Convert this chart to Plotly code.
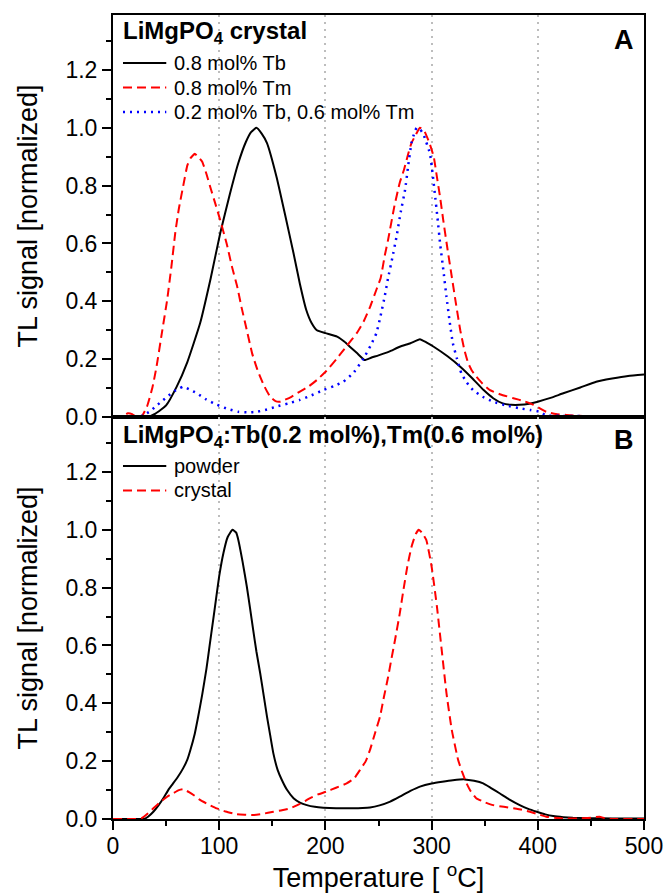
import plotly.graph_objects as go
from plotly.subplots import make_subplots

# ---------------- Panel A : LiMgPO4 crystal ----------------
tb08_T = [0, 20, 32, 40, 50, 60, 70, 82, 92, 101, 110, 118, 125, 130, 135, 140, 145, 154, 162, 170,
          176, 182, 187, 192, 200, 211, 218, 223, 230, 237, 243, 250, 260, 270, 280, 289, 295, 302,
          315, 327, 338, 349, 358, 367, 375, 383, 392, 400, 412, 424, 440, 455, 470, 485, 500]
tb08_v = [0, 0, 0, 0.012, 0.04, 0.105, 0.19, 0.324, 0.48, 0.636, 0.77, 0.878, 0.95, 0.985, 1.0, 0.98,
          0.947, 0.83, 0.70, 0.566, 0.46, 0.37, 0.325, 0.30, 0.29, 0.278, 0.26, 0.243, 0.22, 0.197,
          0.205, 0.213, 0.226, 0.243, 0.255, 0.269, 0.258, 0.243, 0.21, 0.174, 0.135, 0.093, 0.065,
          0.047, 0.042, 0.042, 0.046, 0.053, 0.066, 0.082, 0.102, 0.122, 0.133, 0.142, 0.147]

tm08_T = [0, 8, 14, 18, 22, 27, 32, 37, 41, 46, 51, 55, 58.6, 62, 66, 70, 73, 77, 80, 84, 88, 92, 97,
          101, 107, 112, 117, 121, 126, 131, 136, 142, 148, 153, 157, 162, 168, 176, 184, 192, 201,
          211, 220, 229.5, 236, 242, 248, 252, 256, 259, 265, 270, 274, 278, 281, 285, 289, 293, 298,
          302, 305, 308, 311, 315, 319, 323, 327, 331, 334.5, 338, 342, 348, 355, 365, 377, 387, 396,
          402, 408, 417, 427, 446, 470, 500]
tm08_v = [0, 0, 0.013, 0.01, 0, 0.002, 0.036, 0.1, 0.174, 0.29, 0.405, 0.52, 0.636, 0.72, 0.797, 0.87,
          0.895, 0.91, 0.9, 0.883, 0.84, 0.79, 0.73, 0.68, 0.60, 0.52, 0.45, 0.38, 0.30, 0.22, 0.163,
          0.11, 0.07, 0.055, 0.053, 0.06, 0.07, 0.088, 0.105, 0.128, 0.16, 0.203, 0.245, 0.29, 0.33,
          0.38, 0.44, 0.48, 0.56, 0.612, 0.73, 0.81, 0.855, 0.91, 0.947, 0.975, 1.0, 0.99, 0.947, 0.9,
          0.83, 0.76, 0.68, 0.58, 0.485, 0.39, 0.30, 0.23, 0.186, 0.16, 0.14, 0.115, 0.093, 0.078,
          0.065, 0.055, 0.042, 0.03, 0.018, 0.01, 0.007, 0.003, 0.002, 0.001]

mix_T = [0, 25, 29, 35, 40, 46, 51, 58, 63, 66, 72, 79, 88, 98, 108, 118, 127, 135.5, 145, 154, 165,
         176, 187, 198, 208, 217, 227, 236, 243, 248, 252, 256, 259, 263, 267, 271, 275, 278, 281, 284,
         286, 289, 292, 295, 298.5, 301, 303, 305.5, 308, 311, 314, 317, 320, 324, 328, 333, 339, 348,
         358, 370, 383, 393, 402, 408, 420, 440, 460]
mix_v = [0, 0, 0.007, 0.02, 0.036, 0.055, 0.07, 0.09, 0.1, 0.105, 0.095, 0.082, 0.06, 0.042, 0.028,
         0.018, 0.016, 0.018, 0.026, 0.036, 0.047, 0.059, 0.075, 0.093, 0.107, 0.122, 0.155, 0.203,
         0.25, 0.29, 0.35, 0.42, 0.48, 0.55, 0.624, 0.71, 0.785, 0.87, 0.947, 0.985, 1.0, 0.995, 0.98,
         0.95, 0.91, 0.84, 0.774, 0.69, 0.60, 0.51, 0.416, 0.33, 0.255, 0.2, 0.151, 0.12, 0.093, 0.07,
         0.053, 0.04, 0.03, 0.024, 0.018, 0.005, 0.004, 0.003, 0.003]

# ---------------- Panel B : LiMgPO4:Tb(0.2),Tm(0.6) ----------------
powder_T = [0, 20, 29, 33, 38, 43, 48, 52, 56, 61, 66, 70, 73, 77, 80, 84, 88, 91, 94, 97, 100, 104,
            108, 112.5, 116, 118, 122, 126, 129, 132, 135, 138.6, 142, 145, 148, 151, 155, 159, 164,
            170, 176, 182.5, 190, 198, 210, 225, 235, 242, 251, 261, 270, 280, 289, 300, 310, 320, 331,
            340, 348.6, 356, 364, 373, 383, 391, 399, 407, 414.5, 424, 433, 450, 470, 500]
powder_v = [0, 0, 0, 0.008, 0.025, 0.048, 0.075, 0.1, 0.12, 0.145, 0.175, 0.205, 0.24, 0.295, 0.35,
            0.43, 0.52, 0.6, 0.68, 0.76, 0.84, 0.92, 0.975, 1.0, 0.99, 0.965, 0.89, 0.804, 0.73, 0.654,
            0.58, 0.504, 0.425, 0.354, 0.29, 0.227, 0.17, 0.135, 0.1, 0.072, 0.057, 0.048, 0.042, 0.039,
            0.037, 0.037, 0.038, 0.04, 0.047, 0.06, 0.077, 0.097, 0.112, 0.123, 0.129, 0.134, 0.137,
            0.132, 0.123, 0.107, 0.089, 0.068, 0.048, 0.035, 0.025, 0.016, 0.01, 0.006, 0.004, 0.003,
            0.002, 0.002]

crystal_T = [0, 20, 27, 33, 38, 45, 51, 57, 62, 66, 72, 77, 82, 90, 97.6, 106, 116, 124, 132, 141, 151,
             159, 167, 176, 185.6, 193, 201, 210, 220, 227, 232.6, 238, 242, 247, 251.5, 255, 259, 262,
             265.6, 270, 273.4, 277, 281, 285, 288, 291, 295, 300, 305, 309.5, 314, 319, 325, 329, 333,
             337, 342, 350, 358, 368, 377, 385, 392.6, 400, 408, 416, 424, 440, 450, 458, 463, 470, 500]
crystal_v = [0, 0, 0.003, 0.02, 0.037, 0.06, 0.077, 0.09, 0.1, 0.103, 0.092, 0.08, 0.066, 0.05, 0.037,
             0.026, 0.017, 0.015, 0.014, 0.018, 0.025, 0.03, 0.037, 0.052, 0.072, 0.085, 0.095, 0.108,
             0.123, 0.14, 0.17, 0.2, 0.239, 0.3, 0.355, 0.42, 0.49, 0.55, 0.62, 0.71, 0.79, 0.87, 0.94,
             0.985, 1.0, 0.99, 0.965, 0.873, 0.735, 0.585, 0.435, 0.308, 0.204, 0.16, 0.123, 0.095, 0.072,
             0.058, 0.048, 0.042, 0.037, 0.032, 0.025, 0.017, 0.008, 0.004, 0.002, 0.002, 0.004, 0.008,
             0.003, 0, 0]

x_ticks = [0, 100, 200, 300, 400, 500]
y_ticks = [0.0, 0.2, 0.4, 0.6, 0.8, 1.0, 1.2]

title_A = "<b>LiMgPO<sub>4</sub> crystal</b>"
title_B = "<b>LiMgPO<sub>4</sub>:Tb(0.2 mol%),Tm(0.6 mol%)</b>"

FONT = "Liberation Sans, Arial, sans-serif"
BLACK, RED, BLUE = "#000000", "#ff0000", "#0000ff"
SOLID, DASH, DOT = "solid", "9px,5px", "2px,5px"

series_A = [
    (tb08_T, tb08_v, "0.8 mol% Tb", BLACK, SOLID, 2),
    (tm08_T, tm08_v, "0.8 mol% Tm", RED, DASH, 2),
    (mix_T, mix_v, "0.2 mol% Tb, 0.6 mol% Tm", BLUE, DOT, 2.5),
]
series_B = [
    (powder_T, powder_v, "powder", BLACK, SOLID, 2),
    (crystal_T, crystal_v, "crystal", RED, DASH, 2),
]

fig = make_subplots(rows=2, cols=1, shared_xaxes=False, vertical_spacing=0)

for row, series in ((1, series_A), (2, series_B)):
    for T, v, name, color, dash, width in series:
        fig.add_trace(go.Scatter(x=T, y=v, mode="lines", name=name, showlegend=False,
                                 line=dict(color=color, dash=dash, width=width, shape="spline",
                                           smoothing=0.4)), row=row, col=1)

common_x = dict(range=[0, 500], tickvals=x_ticks, showline=True, linecolor="black", linewidth=2,
                mirror=True, showgrid=True, gridcolor="#bdbdbd", griddash="2px,5px", gridwidth=2,
                zeroline=False)
fig.update_xaxes(**common_x, showticklabels=False, ticks="", row=1, col=1)
fig.update_xaxes(**common_x, ticks="outside", ticklen=9, tickwidth=2, tickcolor="black",
                 ticklabelstandoff=-4,
                 minor=dict(dtick=50, tick0=0, ticks="outside", ticklen=5, tickwidth=2, tickcolor="black",
                            showgrid=False),
                 tickfont=dict(family=FONT, size=23, color="black"),
                 title=dict(text="Temperature [ <sup>o</sup>C]", font=dict(family=FONT, size=27, color="black"),
                            standoff=4),
                 row=2, col=1)

common_y = dict(range=[0, 1.39], tickvals=y_ticks, ticktext=["%.1f" % t for t in y_ticks],
                showline=True, linecolor="black", linewidth=2, mirror=True, showgrid=False, zeroline=False,
                ticks="outside", ticklen=9, tickwidth=2, tickcolor="black",
                minor=dict(dtick=0.1, tick0=0, ticks="outside", ticklen=5, tickwidth=2, tickcolor="black",
                           showgrid=False),
                tickfont=dict(family=FONT, size=23, color="black"),
                title=dict(text="TL signal [normalized]", font=dict(family=FONT, size=27, color="black"),
                           standoff=20))
fig.update_yaxes(**common_y, row=1, col=1)
fig.update_yaxes(**common_y, row=2, col=1)

PLOT_L, PLOT_R, PLOT_T, PLOT_B = 112.7, 644, 15, 819
W, H = 665, 896
pw, ph = PLOT_R - PLOT_L, PLOT_B - PLOT_T


def px_x(p):
    return (p - PLOT_L) / pw


def px_y(p):
    return 1 - (p - PLOT_T) / ph


fig.update_layout(
    width=W, height=H,
    margin=dict(l=PLOT_L, r=W - PLOT_R, t=PLOT_T, b=H - PLOT_B, autoexpand=False),
    paper_bgcolor="white", plot_bgcolor="white",
    font=dict(family=FONT, color="black"),
    showlegend=False,
)

ann = [
    dict(text=title_A, x=px_x(121), y=px_y(33), xanchor="left", yanchor="middle",
         font=dict(family=FONT, size=24, color="black")),
    dict(text="<b>A</b>", x=px_x(624), y=px_y(40), xanchor="center", yanchor="middle",
         font=dict(family=FONT, size=27, color="black")),
    dict(text=title_B, x=px_x(121), y=px_y(436), xanchor="left", yanchor="middle",
         font=dict(family=FONT, size=24, color="black")),
    dict(text="<b>B</b>", x=px_x(624), y=px_y(440), xanchor="center", yanchor="middle",
         font=dict(family=FONT, size=27, color="black")),
]
shapes = []
# legend keys (drawn in panel pixel space) with their labels
for series, y0 in ((series_A, 63), (series_B, 466)):
    for i, (_, _, name, color, dash, width) in enumerate(series):
        yc = y0 + i * 24.5
        shapes.append(dict(type="line", xref="paper", yref="paper",
                           x0=px_x(122.7), x1=px_x(166), y0=px_y(yc), y1=px_y(yc),
                           line=dict(color=color, dash=dash, width=width)))
        ann.append(dict(text=name, x=px_x(172), y=px_y(yc), xanchor="left", yanchor="middle",
                        font=dict(family=FONT, size=20, color="black")))
for a in ann:
    a.update(xref="paper", yref="paper", showarrow=False)
fig.update_layout(annotations=ann, shapes=shapes)

fig.write_html("out.html", config={"displayModeBar": False},
               post_script="document.body.style.margin='0px';")
